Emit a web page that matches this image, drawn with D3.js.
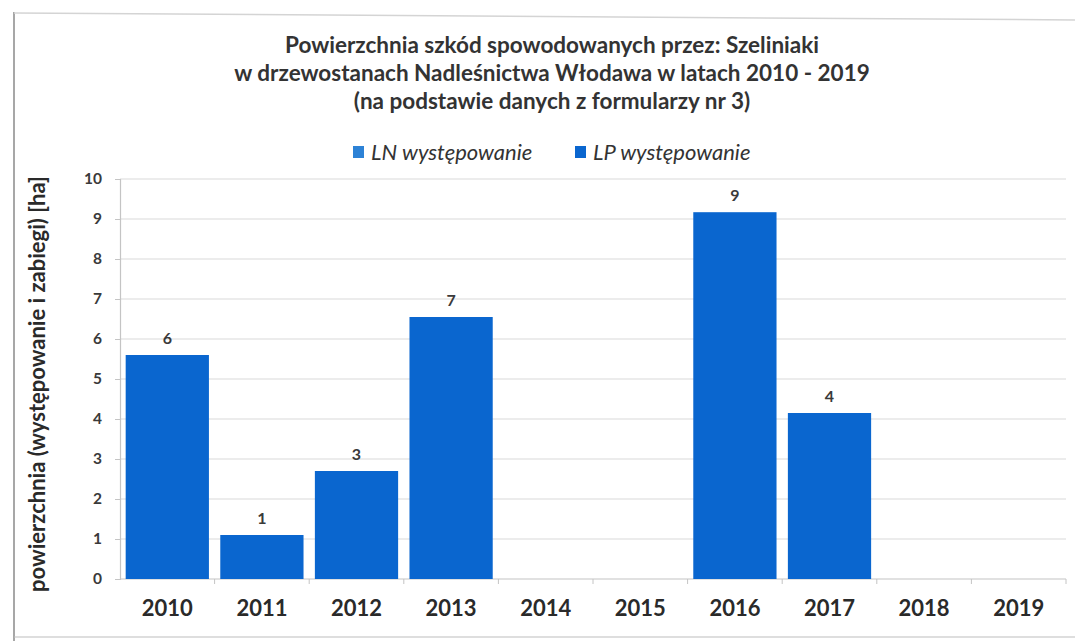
<!DOCTYPE html>
<html><head><meta charset="utf-8">
<script src="https://cdn.jsdelivr.net/npm/d3@7"></script>
<style>body{margin:0;background:#fff;} svg{display:block;}</style>
</head><body>
<svg id="c" width="1075" height="641"></svg>
<script>
const years = ["2010","2011","2012","2013","2014","2015","2016","2017","2018","2019"];
const lnValues = [0,0,0,0,0,0,0,0,0,0];
const lpValues = [5.6,1.1,2.7,6.55,0,0,9.17,4.15,0,0];
const yTicks = [0,1,2,3,4,5,6,7,8,9,10];
const titleLines = ["Powierzchnia szkód spowodowanych przez: Szeliniaki","w drzewostanach Nadleśnictwa Włodawa w latach 2010 - 2019","(na podstawie danych z formularzy nr 3)"];
const seriesNames = ["LN występowanie","LP występowanie"];
const seriesColors = ["#2d82d6","#0a66cf"];
const yTitle = "powierzchnia (występowanie i zabiegi) [ha]";

const svg = d3.select("#c");
const font = "Lato, 'Open Sans', sans-serif";
const L = 120, R = 1066, T = 179, B = 579;

// scan frame
svg.append("line").attr("x1",14).attr("x2",14).attr("y1",12).attr("y2",641).attr("stroke","#8a8a8a").attr("stroke-width",1.5);
svg.append("line").attr("x1",14).attr("x2",1075).attr("y1",13).attr("y2",20).attr("stroke","#d4d4d4").attr("stroke-width",1.5);
svg.append("line").attr("x1",14).attr("x2",1075).attr("y1",637).attr("y2",637).attr("stroke","#bdbdbd").attr("stroke-width",1);

const x = d3.scaleBand().domain(years).range([L,R]).paddingInner(0.12).paddingOuter(0.06);
const y = d3.scaleLinear().domain([0,10]).range([B,T]);

// gridlines
svg.append("g").selectAll("line").data(yTicks.filter(d=>d>0)).join("line")
  .attr("x1",L).attr("x2",R).attr("y1",d=>y(d)).attr("y2",d=>y(d))
  .attr("stroke","#dadada").attr("stroke-width",1.2);

// y axis
const ya = svg.append("g").attr("transform",`translate(${L},0)`)
  .call(d3.axisLeft(y).tickValues(yTicks).tickSize(5).tickPadding(13).tickFormat(d3.format("d")));
ya.select(".domain").attr("stroke","#c4c4c4").attr("stroke-width",1.2);
ya.selectAll(".tick line").attr("stroke","#c4c4c4");
ya.selectAll("text").attr("font-family",font).attr("font-size",15.5).attr("font-weight",700).attr("fill","#3a3a3a");

// x axis
const xa = svg.append("g").attr("transform",`translate(0,${B})`)
  .call(d3.axisBottom(x).tickSize(0).tickPadding(21));
xa.select(".domain").remove();
svg.append("line").attr("x1",L).attr("x2",R).attr("y1",B).attr("y2",B).attr("stroke","#c4c4c4").attr("stroke-width",1.2);
const step = x.step();
svg.append("g").selectAll("line").data(years.slice(1).concat(["end"])).join("line")
  .attr("x1",(d,i)=> i<years.length-1 ? x(d)-step*x.paddingInner()/2 : R)
  .attr("x2",(d,i)=> i<years.length-1 ? x(d)-step*x.paddingInner()/2 : R)
  .attr("y1",B).attr("y2",B+5).attr("stroke","#c4c4c4");
xa.selectAll("text").attr("font-family",font).attr("font-size",22).attr("font-weight",700).attr("fill","#2a2a2a");

// bars (LN behind, LP in front, overlapping)
const bw = x.bandwidth();
[lnValues, lpValues].forEach((vals,si)=>{
  svg.append("g").selectAll("rect").data(vals.map((v,i)=>({v,k:years[i]}))).join("rect")
    .attr("x",d=>x(d.k)).attr("width",bw)
    .attr("y",d=>y(d.v)).attr("height",d=>B-y(d.v))
    .attr("fill",seriesColors[si]);
});
// data labels
svg.append("g").selectAll("text").data(lpValues.map((v,i)=>({v,k:years[i]})).filter(d=>d.v>0)).join("text")
  .attr("x",d=>x(d.k)+bw/2).attr("y",d=>y(d.v)-11)
  .attr("text-anchor","middle").attr("font-family",font).attr("font-size",16).attr("font-weight",700).attr("fill","#3a3a3a")
  .text(d=>d3.format(".0f")(d.v));

// title
svg.append("g").selectAll("text").data(titleLines).join("text")
  .attr("x",552).attr("y",(d,i)=>53+i*28).attr("text-anchor","middle")
  .attr("font-family",font).attr("font-size",22.5).attr("font-weight",700).attr("fill","#333")
  .text(d=>d);

// legend
const lg = svg.append("g");
const lx = [353, 575];
seriesNames.forEach((n,i)=>{
  lg.append("rect").attr("x",lx[i]).attr("y",146).attr("width",11).attr("height",12).attr("fill",seriesColors[i]);
  lg.append("text").attr("x",lx[i]+18).attr("y",160).attr("font-family",font).attr("font-size",22)
    .attr("font-style","italic").attr("fill","#333").text(n);
});

// y title
svg.append("text").attr("transform",`translate(45,${(T+B)/2+5}) rotate(-90)`)
  .attr("text-anchor","middle").attr("font-family",font).attr("font-size",22).attr("font-weight",700).attr("fill","#2a2a2a")
  .text(yTitle);
</script>
</body></html>
